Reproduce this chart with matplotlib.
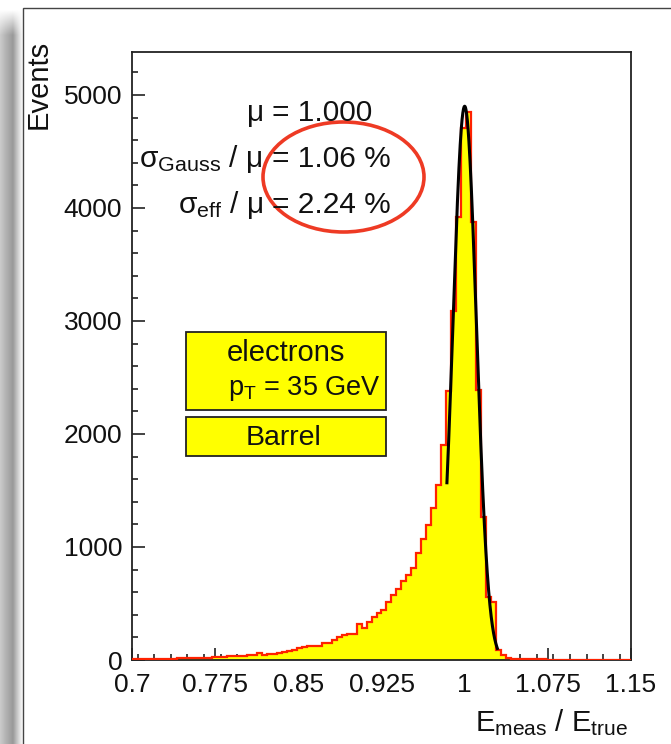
import numpy as np
import matplotlib
matplotlib.use("Agg")
import matplotlib.pyplot as plt
from matplotlib.patches import Rectangle, Ellipse
from matplotlib.ticker import MultipleLocator, FixedLocator

try:
    # slightly larger sub/superscripts, closer to ROOT's TLatex look
    import matplotlib._mathtext as _mt
    _mt.SHRINK_FACTOR = 0.72
except Exception:
    pass

plt.rcParams['font.family'] = ['Liberation Sans', 'DejaVu Sans']
plt.rcParams['mathtext.fontset'] = 'custom'
plt.rcParams['mathtext.rm'] = 'Liberation Sans'
plt.rcParams['mathtext.it'] = 'Liberation Sans:italic'
plt.rcParams['mathtext.bf'] = 'Liberation Sans:bold'

# ---- histogram of E_meas / E_true (100 bins from 0.7 to 1.15) ----
bin_lo, bin_hi, n_bins = 0.7, 1.15, 100
counts = [
    5, 6, 8, 7, 9, 10, 11, 12, 12, 14,
    15, 17, 18, 20, 22, 21, 24, 28, 30, 31,
    34, 36, 38, 40, 42, 58, 44, 50, 53, 60,
    74, 83, 88, 103, 118, 124, 124, 127, 147, 148,
    177, 201, 221, 230, 232, 316, 280, 339, 383, 417,
    443, 515, 578, 625, 696, 748, 818, 950, 1072, 1195,
    1342, 1545, 1900, 2378, 3090, 3920, 4710, 4850, 3880, 2390,
    1268, 560, 510, 88, 44, 18, 12, 10,
    8, 7, 6, 5, 5, 4, 4, 3, 3, 3, 2, 2, 2, 2, 2, 1, 1, 1, 1, 1, 1, 1,
]

# ---- Gaussian core fit ----
fit_mu = 1.000
fit_sigma_pct = 1.06
sigma_eff_pct = 2.24
fit_amp = 4900
fit_range = (0.984, 1.0295)

# ---- axes ----
xticks = [0.7, 0.775, 0.85, 0.925, 1.0, 1.075, 1.15]
xtick_labels = ['0.7', '0.775', '0.85', '0.925', '1', '1.075', '1.15']
yticks = [0, 1000, 2000, 3000, 4000, 5000]
ytick_labels = ['0', '1000', '2000', '3000', '4000', '5000']
y_max = 5380

W, H = 671, 744
fig = plt.figure(figsize=(W / 100, H / 100), dpi=100)
fig.patch.set_facecolor('white')

# page background with a soft shadow on the left edge
bg = fig.add_axes([0, 0, 1, 1], zorder=-5)
bg.set_xlim(0, W)
bg.set_ylim(H, 0)
bg.axis('off')
sx = np.arange(0, 24) + 0.5
shade_x = np.interp(sx, [0, 6, 13, 19, 23], [0.80, 0.70, 0.60, 0.85, 1.0])
sy = np.arange(0, H) + 0.5
fade_y = np.clip((sy - 10) / 25.0, 0, 1)
shade = 1 - (1 - shade_x[None, :]) * fade_y[:, None]
bg.imshow(np.dstack([shade] * 3), extent=[0, 24, H, 0], aspect='auto',
          interpolation='bilinear', zorder=0)
bg.add_patch(Rectangle((23, 8), W, H, facecolor='white', edgecolor='#444444',
                       linewidth=1.0, zorder=1))

ax = fig.add_axes([132 / W, (H - 660) / H, 499 / W, 608 / H])
ax.set_facecolor('none')

edges = np.linspace(bin_lo, bin_hi, n_bins + 1)
vals = np.asarray(counts, dtype=float)
ax.stairs(vals, edges, fill=True, color='#ffff00', zorder=2)
ax.stairs(vals, edges, color='#ff2200', linewidth=1.6, zorder=3)

sigma = fit_sigma_pct / 100.0 * fit_mu
xf = np.linspace(fit_range[0], fit_range[1], 400)
yf = fit_amp * np.exp(-0.5 * ((xf - fit_mu) / sigma) ** 2)
ax.plot(xf, yf, color='black', linewidth=2.2, zorder=4)

ax.set_xlim(bin_lo, bin_hi)
ax.set_ylim(0, y_max)
ax.xaxis.set_major_locator(FixedLocator(xticks))
ax.set_xticklabels(xtick_labels)
ax.yaxis.set_major_locator(FixedLocator(yticks))
ax.set_yticklabels(ytick_labels)
ax.xaxis.set_minor_locator(MultipleLocator(0.015))
ax.yaxis.set_minor_locator(MultipleLocator(200))
ax.tick_params(which='both', direction='in', top=False, right=False,
               color='#222222', width=1.2, labelsize=19, labelcolor='#111111')
ax.tick_params(which='major', length=9)
ax.tick_params(which='minor', length=4.5)
ax.tick_params(axis='x', which='major', pad=9)
ax.tick_params(axis='y', which='major', pad=7)
for sp in ax.spines.values():
    sp.set_linewidth(1.3)
    sp.set_color('#222222')

# overlay in pixel coordinates for titles and annotations
ov = fig.add_axes([0, 0, 1, 1], zorder=10)
ov.set_xlim(0, W)
ov.set_ylim(H, 0)
ov.axis('off')

ov.text(628, 731, r'$\mathregular{E_{meas}\ /\ E_{true}}$', fontsize=21,
        ha='right', va='baseline', color='#111111')
ov.text(53, 40, 'Events', fontsize=21, rotation=90, ha='right', va='top',
        color='#111111')

fs = 21.5
stat_left = [r'$\mathregular{\mu}$',
             r'$\mathregular{\sigma_{Gauss}\ /\ \mu}$',
             r'$\mathregular{\sigma_{eff}\ /\ \mu}$']
stat_right = ['= %.3f' % fit_mu,
              '= %.2f %%' % fit_sigma_pct,
              '= %.2f %%' % sigma_eff_pct]
baselines = [121, 167, 213]
for l, r, yb in zip(stat_left, stat_right, baselines):
    ov.text(263, yb, l, fontsize=fs, ha='right', va='baseline', color='#111111')
    ov.text(272, yb, r, fontsize=fs, ha='left', va='baseline', color='#111111')

ov.add_patch(Ellipse((343.5, 177), 161, 110, fill=False, edgecolor='#ee3a24',
                     linewidth=2.6))

ov.add_patch(Rectangle((186, 332), 200, 78, facecolor='#ffff00',
                       edgecolor='#222222', linewidth=1.3))
ov.add_patch(Rectangle((186, 417), 200, 39, facecolor='#ffff00',
                       edgecolor='#222222', linewidth=1.3))
ov.text(286, 361, 'electrons', fontsize=21, ha='center', va='baseline',
        color='#111111')
ov.text(304, 395, r'$\mathregular{p_{T}}$ = 35 GeV', fontsize=19.5,
        ha='center', va='baseline', color='#111111')
ov.text(283, 445, 'Barrel', fontsize=20.5, ha='center', va='baseline',
        color='#111111')

fig.savefig('out.png', dpi=100, facecolor='white')
